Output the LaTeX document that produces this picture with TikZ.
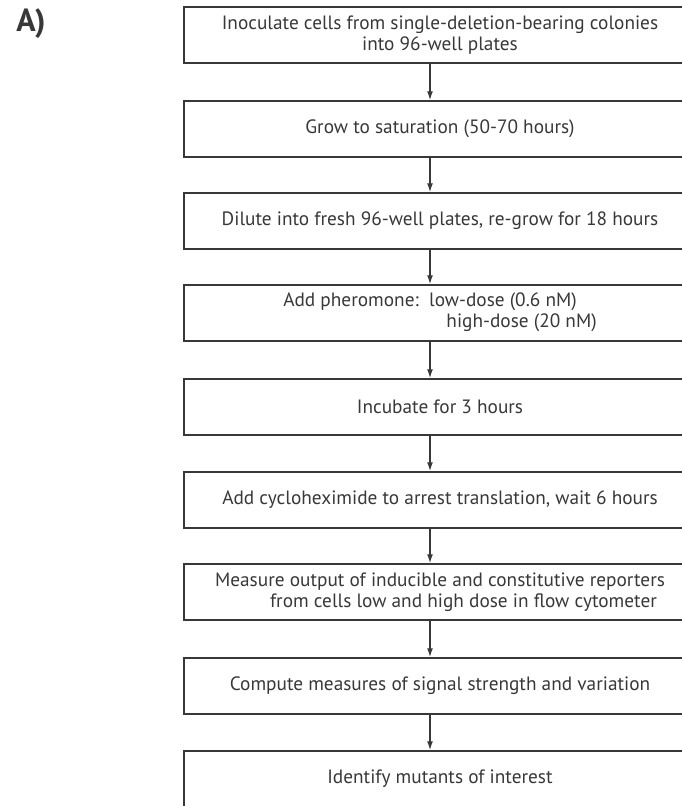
\documentclass[tikz,border=0pt]{standalone}
\usepackage{fontspec}
\setmainfont{PT Sans}
\usepackage{tikz}
\usetikzlibrary{arrows.meta}
\definecolor{inkgray}{HTML}{383838}

\tikzset{
  stepbox/.style={draw=inkgray, line width=1.5pt, minimum width=512pt,
    minimum height=56pt, inner sep=0pt, text=inkgray,
    font=\fontsize{19.3}{21}\selectfont},
  flow/.style={-{Latex[length=9pt,width=6pt]}, draw=inkgray, line width=1.4pt}
}

\begin{document}
\begin{tikzpicture}[x=1pt,y=-1pt]
  \clip (0,0) rectangle (682,806);
  \node[text=inkgray,font=\bfseries\fontsize{32}{32}\selectfont] (panel) at (31,24) {A)};
  % the steps of the screen
  \foreach \n/\y/\txt in {
      1/35/{Inoculate cells from single-deletion-bearing colonies\\into 96-well plates},
      2/129/{Grow to saturation (50-70 hours)},
      3/221/{Dilute into fresh 96-well plates, re-grow for 18 hours},
      5/407/{Incubate for 3 hours},
      6/500/{Add cycloheximide to arrest translation, wait 6 hours},
      8/686/{Compute measures of signal strength and variation},
      9/779/{Identify mutants of interest}}
    \node[stepbox,align=center] (s\n) at (440,\y) {\txt};
  \node[stepbox] (s4) at (440,313) {\begin{tabular}{@{}r@{\ \ }l@{}}
      Add pheromone: & low-dose (0.6 nM)\\
      & \hspace{0.9em}high-dose (20 nM)\end{tabular}};
  \node[stepbox,align=left] (s7) at (440,592) {Measure output of inducible and constitutive reporters\\
      \hspace*{55pt}from cells low and high dose in flow cytometer};
  % arrows between steps
  \foreach \a/\b in {1/2,2/3,3/4,4/5,5/6,6/7,7/8,8/9}
    \draw[flow] ([xshift=-10pt]s\a.south) -- ([xshift=-10pt]s\b.north);
\end{tikzpicture}
\end{document}
